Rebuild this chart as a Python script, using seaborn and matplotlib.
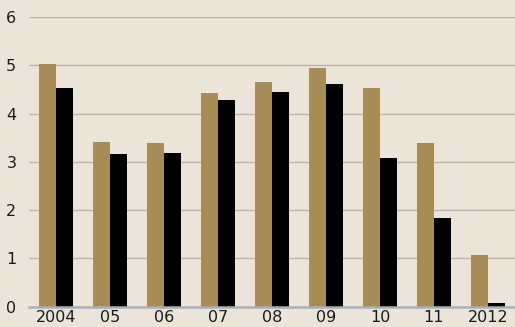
import matplotlib
matplotlib.use("Agg")
import matplotlib.pyplot as plt
import seaborn as sns
import pandas as pd
import numpy as np

years = ["2004", "05", "06", "07", "08", "09", "10", "11", "2012"]
series_a = [5.02, 3.42, 3.40, 4.42, 4.65, 4.94, 4.53, 3.40, 1.07]
series_b = [4.52, 3.17, 3.19, 4.28, 4.45, 4.61, 3.08, 1.84, 0.07]
series_names = ["A", "B"]
yticks = [0, 1, 2, 3, 4, 5, 6]

bg = "#EBE4D8"
gold = "#A88C55"
black = "#000000"
grid = "#B8B2A8"

df = pd.DataFrame({
    "year": years * 2,
    "value": series_a + series_b,
    "series": [series_names[0]] * len(years) + [series_names[1]] * len(years),
})

sns.set_style("white")
plt.rcParams["font.family"] = ["DejaVu Sans"]

fig = plt.figure(figsize=(5.15, 3.27), dpi=100, facecolor=bg)
ax = fig.add_axes([0.056, 0.062, 0.944, 0.886])
ax.set_facecolor(bg)

sns.barplot(data=df, x="year", y="value", hue="series", order=years,
            palette=[gold, black], width=0.62, gap=0, saturation=1,
            legend=False, ax=ax, linewidth=0, errorbar=None)

ax.set_ylim(0, 6)
ax.set_xlim(-0.5, len(years) - 0.5)
ax.set_yticks(yticks)
ax.set_yticklabels([str(t) for t in yticks], fontsize=11.5, color="#1a1a1a")
ax.set_xticks(range(len(years)))
ax.set_xticklabels(years, fontsize=11.5, color="#1a1a1a")
ax.set_xlabel("")
ax.set_ylabel("")
for y in yticks[1:]:
    ax.axhline(y, color=grid, lw=1.0, zorder=0)
ax.set_axisbelow(True)

for s in ["top", "right", "left"]:
    ax.spines[s].set_visible(False)
ax.spines["bottom"].set_color("#A9AFB8")
ax.spines["bottom"].set_linewidth(1.8)

ax.tick_params(axis="y", length=0, pad=9)
ax.tick_params(axis="x", which="major", length=0, pad=2)
ax.set_xticks(np.arange(-0.5, len(years) - 0.5, 1.0), minor=True)
ax.tick_params(axis="x", which="minor", direction="in", length=4, width=0.9, color="#A9A49B")

fig.savefig("out.png", dpi=100, facecolor=bg)
